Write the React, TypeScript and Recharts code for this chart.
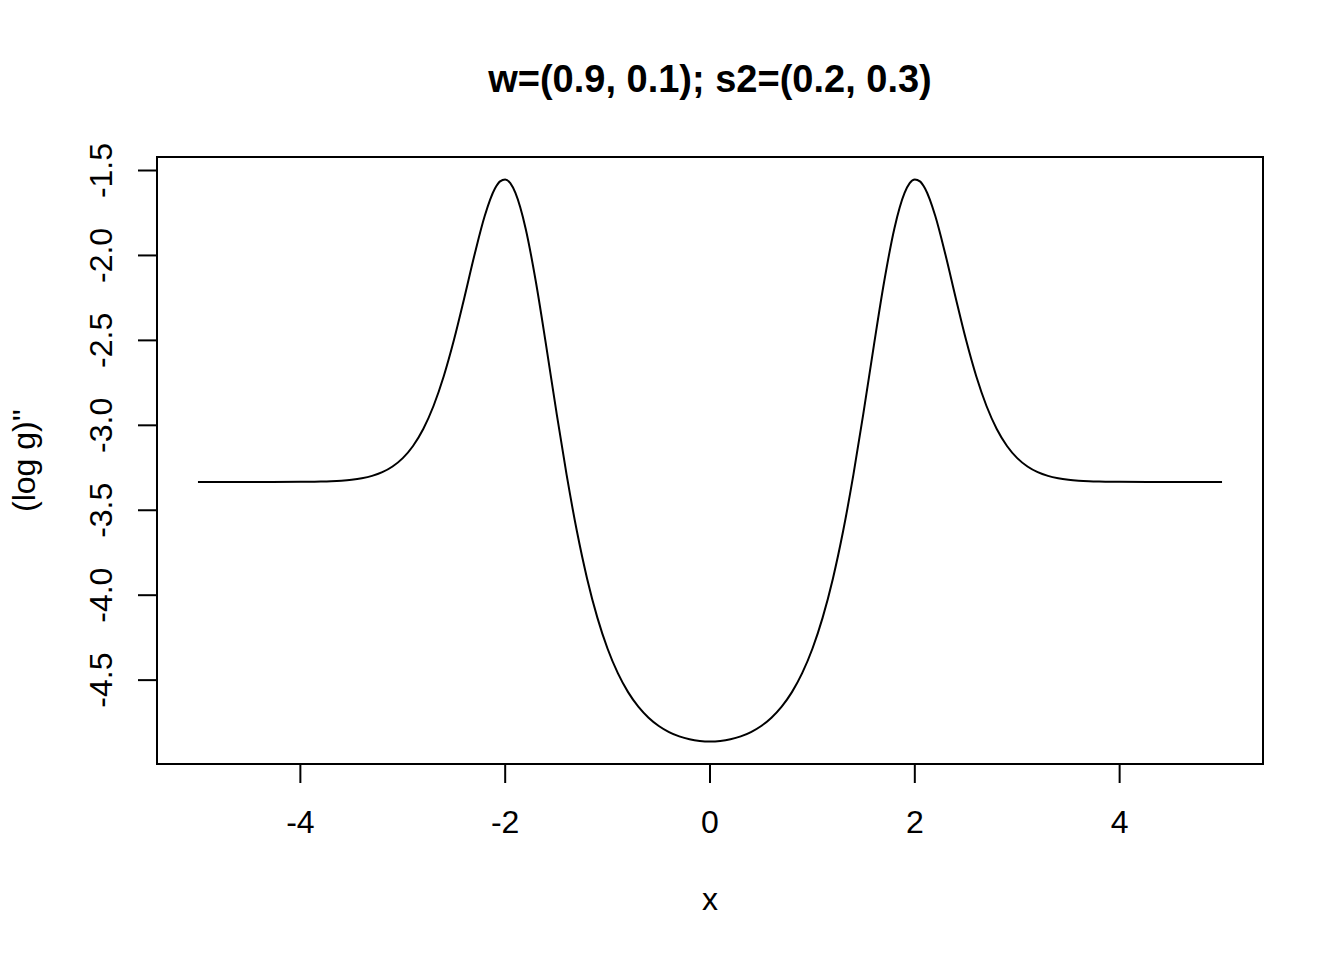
import { LineChart, Line, XAxis, YAxis, ReferenceArea, Customized } from "recharts";

// x grid of the curve and the second derivative of log g
const xValues = [
  -5, -4.5, -4, -3.9, -3.8, -3.7, -3.6, -3.5, -3.4, -3.3, -3.2, -3.1, -3, -2.9, -2.8, -2.7, -2.6, -2.5, -2.4,
  -2.3, -2.2, -2.1, -2.05, -2, -1.95, -1.9, -1.8, -1.7, -1.6, -1.5, -1.4, -1.3, -1.2, -1.1, -1, -0.9, -0.8,
  -0.7, -0.6, -0.5, -0.4, -0.3, -0.2, -0.1, 0, 0.1, 0.2, 0.3, 0.4, 0.5, 0.6, 0.7, 0.8, 0.9, 1, 1.1, 1.2, 1.3,
  1.4, 1.5, 1.6, 1.7, 1.8, 1.9, 1.95, 2, 2.05, 2.1, 2.2, 2.3, 2.4, 2.5, 2.6, 2.7, 2.8, 2.9, 3, 3.1, 3.2, 3.3,
  3.4, 3.5, 3.6, 3.7, 3.8, 3.9, 4, 4.5, 5,
];
const logG2Values = [
  -3.3333, -3.3333, -3.3326, -3.3319, -3.3308, -3.3289, -3.3256, -3.3202, -3.3114, -3.2974, -3.2755, -3.2422,
  -3.1929, -3.1215, -3.0215, -2.8863, -2.7113, -2.4969, -2.2519, -1.9975, -1.768, -1.6063, -1.564, -1.5528,
  -1.5743, -1.6321, -1.8425, -2.1563, -2.5305, -2.9209, -3.2921, -3.6225, -3.9026, -4.1321, -4.3153, -4.4591,
  -4.5706, -4.656, -4.721, -4.7697, -4.8056, -4.8312, -4.8484, -4.8581, -4.8614, -4.8581, -4.8484, -4.8312,
  -4.8056, -4.7697, -4.721, -4.656, -4.5706, -4.4591, -4.3153, -4.1321, -3.9026, -3.6225, -3.2921, -2.9209,
  -2.5305, -2.1563, -1.8425, -1.6321, -1.5743, -1.5528, -1.564, -1.6063, -1.768, -1.9975, -2.2519, -2.4969,
  -2.7113, -2.8863, -3.0215, -3.1215, -3.1929, -3.2422, -3.2755, -3.2974, -3.3114, -3.3202, -3.3256, -3.3289,
  -3.3308, -3.3319, -3.3326, -3.3333, -3.3333,
];
const xTicks = [-4, -2, 0, 2, 4];
const yTicks = [-4.5, -4, -3.5, -3, -2.5, -2, -1.5];
const title = "w=(0.9, 0.1); s2=(0.2, 0.3)";
const xLabel = "x";
const yLabel = "(log g)''";

const data = xValues.map((x, i) => ({ x, y: logG2Values[i] }));

// R pads each axis range by 4%
const xDomain: [number, number] = [-5.4, 5.4];
const yDomain: [number, number] = [-4.9937, -1.4205];

const FONT = "'Liberation Sans', Arial, Helvetica, sans-serif";
const W = 1344;
const H = 960;
const PLOT_LEFT = 157;
const PLOT_RIGHT = 1263;
const PLOT_TOP = 157;
const PLOT_BOTTOM = 764;

function XTick({ x, payload }: any) {
  return (
    <text x={x} y={PLOT_BOTTOM + 69} textAnchor="middle" fontSize={32} fontFamily={FONT} fill="#000">
      {payload.value}
    </text>
  );
}

function YTick({ y, payload }: any) {
  const bx = 112;
  return (
    <text
      x={bx}
      y={y}
      transform={`rotate(-90, ${bx}, ${y})`}
      textAnchor="middle"
      fontSize={32}
      fontFamily={FONT}
      fill="#000"
    >
      {Number(payload.value).toFixed(1)}
    </text>
  );
}

function Titles() {
  const cx = (PLOT_LEFT + PLOT_RIGHT) / 2;
  const cy = (PLOT_TOP + PLOT_BOTTOM) / 2;
  return (
    <g fontFamily={FONT} fill="#000">
      <text x={cx} y={92} textAnchor="middle" fontSize={38} fontWeight="bold">
        {title}
      </text>
      <text x={cx} y={910} textAnchor="middle" fontSize={32}>
        {xLabel}
      </text>
      <text x={35} y={cy} transform={`rotate(-90, 35, ${cy})`} textAnchor="middle" fontSize={32}>
        {yLabel}
      </text>
    </g>
  );
}

export default function App() {
  return (
    <div style={{ position: "absolute", left: 0, top: 0, width: W, height: H, background: "#fff" }}>
      <LineChart
        width={W}
        height={H}
        data={data}
        margin={{ top: PLOT_TOP, right: W - PLOT_RIGHT, bottom: H - PLOT_BOTTOM - 60, left: PLOT_LEFT - 60 }}
      >
        <XAxis
          dataKey="x"
          type="number"
          domain={xDomain}
          ticks={xTicks}
          height={60}
          axisLine={false}
          tickLine={{ stroke: "#000", strokeWidth: 2 }}
          tickSize={19}
          tick={(p: any) => <XTick {...p} />}
          allowDataOverflow
        />
        <YAxis
          type="number"
          domain={yDomain}
          ticks={yTicks}
          width={60}
          axisLine={false}
          tickLine={{ stroke: "#000", strokeWidth: 2 }}
          tickSize={19}
          tick={(p: any) => <YTick {...p} />}
          allowDataOverflow
        />
        <ReferenceArea
          x1={xDomain[0]}
          x2={xDomain[1]}
          y1={yDomain[0]}
          y2={yDomain[1]}
          fill="none"
          stroke="#000"
          strokeWidth={2}
          ifOverflow="visible"
        />
        <Line
          dataKey="y"
          type="monotone"
          stroke="#000"
          strokeWidth={2}
          dot={false}
          isAnimationActive={false}
        />
        <Customized component={Titles} />
      </LineChart>
    </div>
  );
}
